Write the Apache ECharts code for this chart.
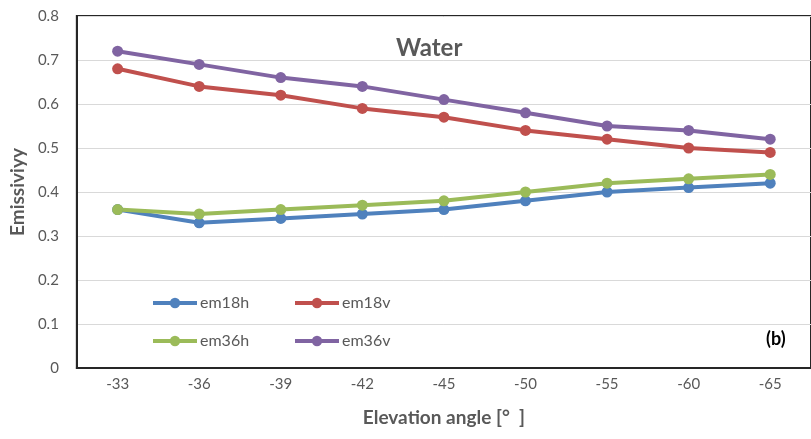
<!DOCTYPE html>
<html>
<head>
<meta charset="utf-8">
<script src="https://cdn.jsdelivr.net/npm/echarts@6/dist/echarts.min.js"></script>
<style>
  html, body { margin: 0; padding: 0; background: #fff; }
  #chart { width: 811px; height: 439px; }
</style>
</head>
<body>
<div id="chart"></div>
<script>
const angles = ['-33', '-36', '-39', '-42', '-45', '-50', '-55', '-60', '-65']
const em18h = [0.36, 0.33, 0.34, 0.35, 0.36, 0.38, 0.40, 0.41, 0.42]
const em18v = [0.68, 0.64, 0.62, 0.59, 0.57, 0.54, 0.52, 0.50, 0.49]
const em36h = [0.36, 0.35, 0.36, 0.37, 0.38, 0.40, 0.42, 0.43, 0.44]
const em36v = [0.72, 0.69, 0.66, 0.64, 0.61, 0.58, 0.55, 0.54, 0.52]

const font = 'Lato, "Open Sans", sans-serif'
const gray = '#595959'

function line (name, data, color) {
  return {
    name: name,
    type: 'line',
    data: data,
    symbol: 'circle',
    symbolSize: 11,
    itemStyle: { color: color },
    lineStyle: { color: color, width: 4 }
  }
}

function legendAt (name, left, top) {
  return {
    data: [name],
    left: left,
    top: top,
    itemWidth: 44,
    itemHeight: 13,
    lineStyle: { width: 4 },
    textStyle: { color: gray, fontSize: 16, fontFamily: font, padding: [0, 0, 0, -2] }
  }
}

let myChart = echarts.init(document.getElementById('chart'))
myChart.setOption({
  animation: false,
  textStyle: { fontFamily: font },
  title: {
    text: 'Water',
    left: 391,
    top: 31,
    textStyle: { color: gray, fontSize: 24, fontWeight: 'bold', fontFamily: font }
  },
  legend: [
    legendAt('em18h', 146, 290),
    legendAt('em18v', 288, 290),
    legendAt('em36h', 146, 328),
    legendAt('em36v', 288, 328)
  ],
  graphic: [{
    type: 'text',
    left: 766,
    top: 330,
    style: { text: '(b)', fill: '#000', font: 'bold 18px ' + font }
  }],
  grid: {
    left: 76,
    top: 16,
    width: 742,
    height: 352,
    show: true,
    borderColor: '#262626',
    borderWidth: 2
  },
  xAxis: {
    type: 'category',
    data: angles,
    name: 'Elevation angle [°  ]',
    nameLocation: 'middle',
    nameGap: 40,
    nameTextStyle: { color: gray, fontSize: 19, fontWeight: 'bold', fontFamily: font },
    axisLine: { lineStyle: { color: '#262626', width: 2 } },
    axisTick: { show: false },
    axisLabel: { color: gray, fontSize: 15, margin: 9, fontFamily: font }
  },
  yAxis: {
    type: 'value',
    min: 0,
    max: 0.8,
    interval: 0.1,
    name: 'Emissiviyy',
    nameLocation: 'middle',
    nameGap: 49,
    nameTextStyle: { color: gray, fontSize: 19, fontWeight: 'bold', fontFamily: font },
    axisLine: { show: true, lineStyle: { color: '#262626', width: 2 } },
    axisTick: { show: false },
    axisLabel: {
      color: gray,
      fontSize: 15,
      margin: 18,
      fontFamily: font,
      formatter: v => String(Math.round(v * 10) / 10)
    },
    splitLine: { lineStyle: { color: '#d9d9d9', width: 1 } }
  },
  series: [
    line('em18h', em18h, '#4f81bd'),
    line('em18v', em18v, '#c0504d'),
    line('em36h', em36h, '#9bbb59'),
    line('em36v', em36v, '#8064a2')
  ]
})
</script>
</body>
</html>
